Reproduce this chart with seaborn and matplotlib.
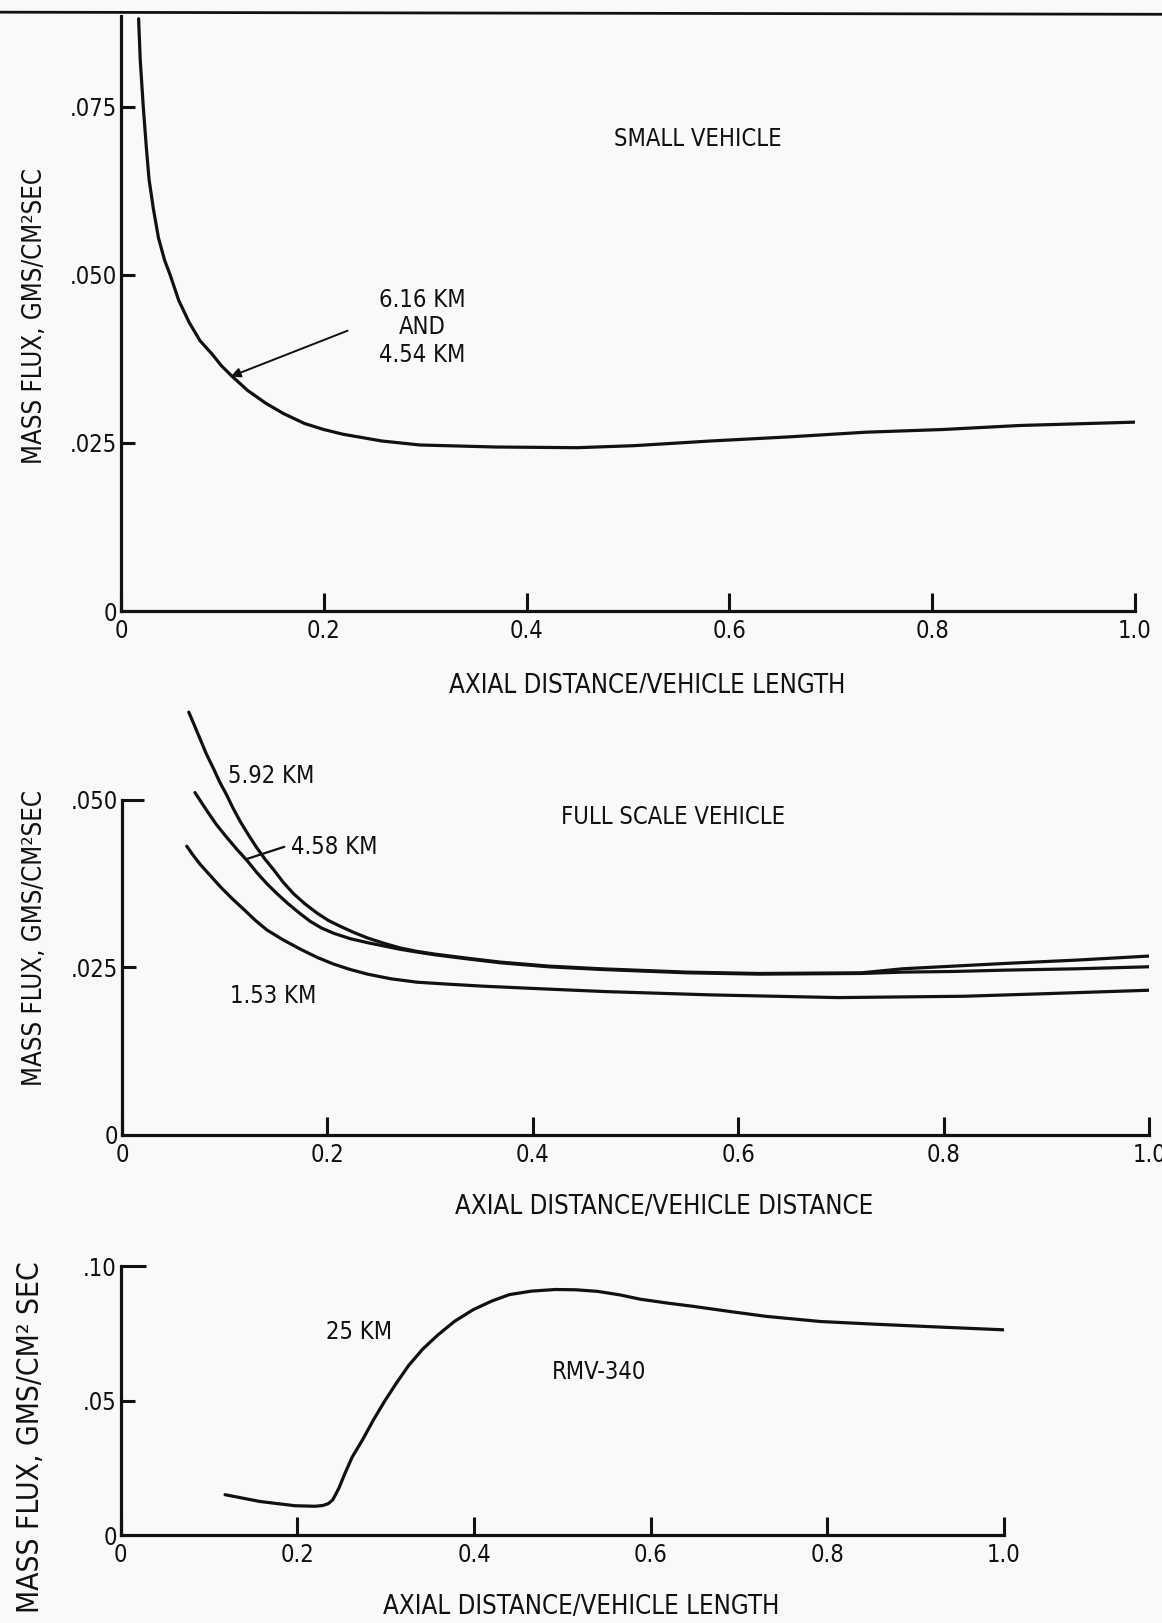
import matplotlib
matplotlib.use("Agg")
import matplotlib.pyplot as plt
from matplotlib import font_manager
from matplotlib.lines import Line2D
import pandas as pd
import seaborn as sns

# ---- data -----------------------------------------------------------------
# Small vehicle (6.16 km and 4.54 km coincide)
small_x = [0.0174, 0.019, 0.022, 0.025, 0.0277, 0.032, 0.037, 0.043, 0.0485, 0.057,
           0.0674, 0.078, 0.090, 0.099, 0.109, 0.125, 0.143, 0.160, 0.181, 0.200,
           0.219, 0.257, 0.295, 0.37, 0.45, 0.506, 0.582, 0.658, 0.734, 0.81, 0.886, 1.0]
small_y = [0.0881, 0.0820, 0.0750, 0.0690, 0.0642, 0.0598, 0.0555, 0.0522, 0.0500, 0.0462,
           0.0429, 0.0402, 0.0382, 0.0365, 0.0350, 0.0328, 0.0309, 0.0294, 0.0279, 0.0270,
           0.0263, 0.0253, 0.0247, 0.0244, 0.0243, 0.0246, 0.0253, 0.0259, 0.0266, 0.0270,
           0.0276, 0.0281]

# Full scale vehicle
fs592_x = [0.065, 0.070, 0.076, 0.082, 0.089, 0.095, 0.102, 0.108, 0.115, 0.123, 0.131,
           0.139, 0.148, 0.157, 0.167, 0.178, 0.190, 0.201, 0.213, 0.226, 0.239, 0.255,
           0.271, 0.287, 0.304, 0.335, 0.368, 0.415, 0.466, 0.55, 0.62, 0.72, 0.76,
           0.81, 0.86, 0.93, 1.0]
fs592_y = [0.0631, 0.0613, 0.0591, 0.0569, 0.0547, 0.0527, 0.0507, 0.0488, 0.0468, 0.0448,
           0.0429, 0.0412, 0.0395, 0.0377, 0.0360, 0.0345, 0.0331, 0.0320, 0.0311, 0.0302,
           0.0294, 0.0286, 0.0279, 0.0274, 0.0270, 0.0264, 0.0258, 0.0252, 0.0248, 0.0243,
           0.0241, 0.0242, 0.0248, 0.0252, 0.0256, 0.0261, 0.0267]
fs458_x = [0.071, 0.077, 0.083, 0.092, 0.102, 0.112, 0.122, 0.131, 0.141, 0.151, 0.161,
           0.172, 0.183, 0.194, 0.206, 0.222, 0.239, 0.255, 0.271, 0.287, 0.304, 0.335,
           0.368, 0.415, 0.466, 0.55, 0.62, 0.72, 0.76, 0.81, 0.86, 0.93, 1.0]
fs458_y = [0.0511, 0.0497, 0.0483, 0.0463, 0.0444, 0.0426, 0.0409, 0.0392, 0.0375, 0.0360,
           0.0346, 0.0332, 0.0319, 0.0309, 0.0301, 0.0293, 0.0287, 0.0282, 0.0277, 0.0273,
           0.0269, 0.0263, 0.0257, 0.0251, 0.0247, 0.0242, 0.0240, 0.0241, 0.0243, 0.0244,
           0.0246, 0.0248, 0.0251]
fs153_x = [0.063, 0.069, 0.076, 0.086, 0.096, 0.107, 0.119, 0.130, 0.141, 0.157, 0.174,
           0.190, 0.206, 0.222, 0.239, 0.262, 0.287, 0.318, 0.352, 0.41, 0.47, 0.574,
           0.697, 0.82, 0.902, 1.0]
fs153_y = [0.0431, 0.0418, 0.0404, 0.0387, 0.0370, 0.0353, 0.0336, 0.0320, 0.0306, 0.0291,
           0.0277, 0.0265, 0.0255, 0.0247, 0.0240, 0.0233, 0.0228, 0.0225, 0.0222, 0.0218,
           0.0214, 0.0209, 0.0205, 0.0207, 0.0211, 0.0216]

# RMV-340 at 25 km
rmv_x = [0.118, 0.157, 0.197, 0.220, 0.229, 0.235, 0.240, 0.247, 0.254, 0.262, 0.274,
         0.286, 0.298, 0.312, 0.326, 0.342, 0.359, 0.378, 0.399, 0.42, 0.44, 0.465,
         0.492, 0.515, 0.54, 0.565, 0.588, 0.62, 0.649, 0.69, 0.731, 0.792, 0.854,
         0.915, 1.0]
rmv_y = [0.0150, 0.0125, 0.0109, 0.0107, 0.0110, 0.0117, 0.0131, 0.0175, 0.0231, 0.0290,
         0.0356, 0.0428, 0.0494, 0.0565, 0.0631, 0.0692, 0.0744, 0.0795, 0.0838, 0.0870,
         0.0894, 0.0907, 0.0913, 0.0912, 0.0906, 0.0893, 0.0877, 0.0862, 0.0850, 0.0831,
         0.0813, 0.0794, 0.0784, 0.0775, 0.0763]

x_ticks = [0, 0.2, 0.4, 0.6, 0.8, 1.0]
x_ticklabels = ["0", "0.2", "0.4", "0.6", "0.8", "1.0"]
y1_ticks = [0, 0.025, 0.050, 0.075]
y1_ticklabels = ["0", ".025", ".050", ".075"]
y2_ticks = [0, 0.025, 0.050]
y2_ticklabels = ["0", ".025", ".050"]
y3_ticks = [0, 0.05, 0.10]
y3_ticklabels = ["0", ".05", ".10"]

# ---- style ----------------------------------------------------------------
sns.set_theme(style="white")
names = {f.name for f in font_manager.fontManager.ttflist}
family = ["Liberation Sans Narrow", "DejaVu Sans"] if "Liberation Sans Narrow" in names \
    else ["DejaVu Sans"]
plt.rcParams["font.family"] = family
plt.rcParams["font.stretch"] = "condensed"

INK = "#111111"
PAPER = "#f9f9f9"
LW = 2.3
FS_TICK = 17
FS_LABEL = 18.5
FS_TEXT = 17

fig = plt.figure(figsize=(11.62, 16.23), dpi=100, facecolor=PAPER)

ax1 = fig.add_axes([0.1041, 0.6235, 0.8726, 0.3666])
ax2 = fig.add_axes([0.1050, 0.3007, 0.8840, 0.2725])
ax3 = fig.add_axes([0.1040, 0.0542, 0.7600, 0.1657])


def style_axis(ax, ylim, yticks, yticklabels, ytop):
    ax.set_facecolor(PAPER)
    ax.set_xlim(0, 1.0)
    ax.set_ylim(*ylim)
    for s in ("top", "right"):
        ax.spines[s].set_visible(False)
    for s in ("left", "bottom"):
        ax.spines[s].set_color(INK)
        ax.spines[s].set_linewidth(LW)
    ax.spines["left"].set_bounds(0, ytop)
    ax.spines["bottom"].set_bounds(0, 1.0)
    ax.set_xticks(x_ticks)
    ax.set_xticklabels(x_ticklabels)
    ax.set_yticks(yticks)
    ax.set_yticklabels(yticklabels)
    ax.tick_params(axis="x", direction="in", length=13, width=2.2, color=INK,
                   labelsize=FS_TICK, labelcolor=INK, pad=6, bottom=True)
    ax.tick_params(axis="y", direction="in", length=10, width=2.2, color=INK,
                   labelsize=FS_TICK, labelcolor=INK, pad=3, left=True)
    ax.grid(False)


# ---- panel 1: small vehicle ----------------------------------------------
df1 = pd.DataFrame({"x": small_x, "y": small_y})
sns.lineplot(data=df1, x="x", y="y", ax=ax1, color=INK, lw=LW, sort=False)
style_axis(ax1, (0, 0.0885), y1_ticks, y1_ticklabels, 0.0885)
ax1.yaxis.get_major_ticks()[0].tick1line.set_visible(False)
ax1.set_xlabel("AXIAL DISTANCE/VEHICLE LENGTH", fontsize=FS_LABEL, color=INK)
ax1.set_ylabel("MASS FLUX, GMS/CM²SEC", fontsize=FS_LABEL, color=INK)
ax1.xaxis.set_label_coords(0.519, -0.104)
ax1.yaxis.set_label_coords(-0.072, 0.496)
ax1.text(0.569, 0.0702, "SMALL VEHICLE", ha="center", va="center",
         fontsize=FS_TEXT, color=INK)
ax1.text(0.297, 0.0422, "6.16 KM\nAND\n4.54 KM", ha="center", va="center",
         fontsize=FS_TEXT, color=INK, linespacing=1.2)
ax1.annotate("", xy=(0.1083, 0.0349), xytext=(0.2235, 0.0417),
             arrowprops=dict(arrowstyle="-|>", color=INK, lw=1.4,
                             mutation_scale=14, shrinkA=0, shrinkB=0))

# ---- panel 2: full scale vehicle -----------------------------------------
df2 = pd.concat([
    pd.DataFrame({"x": fs592_x, "y": fs592_y, "alt": "5.92 KM"}),
    pd.DataFrame({"x": fs458_x, "y": fs458_y, "alt": "4.58 KM"}),
    pd.DataFrame({"x": fs153_x, "y": fs153_y, "alt": "1.53 KM"}),
], ignore_index=True)
sns.lineplot(data=df2, x="x", y="y", hue="alt", units="alt", estimator=None,
             palette=[INK, INK, INK], lw=LW, ax=ax2, legend=False, sort=False)
style_axis(ax2, (0, 0.066), y2_ticks, y2_ticklabels, 0.050)
yt = ax2.yaxis.get_major_ticks()
yt[0].tick1line.set_visible(False)
yt[2].tick1line.set_markersize(16)
ax2.set_xlabel("AXIAL DISTANCE/VEHICLE DISTANCE", fontsize=FS_LABEL, color=INK)
ax2.set_ylabel("MASS FLUX, GMS/CM²SEC", fontsize=FS_LABEL, color=INK)
ax2.xaxis.set_label_coords(0.528, -0.133)
ax2.yaxis.set_label_coords(-0.072, 0.446)
ax2.text(0.536, 0.0475, "FULL SCALE VEHICLE", ha="center", va="center",
         fontsize=FS_TEXT, color=INK)
ax2.text(0.103, 0.0535, "5.92 KM", ha="left", va="center", fontsize=FS_TEXT, color=INK)
ax2.text(0.165, 0.0430, "4.58 KM", ha="left", va="center", fontsize=FS_TEXT, color=INK)
ax2.text(0.1055, 0.0207, "1.53 KM", ha="left", va="center", fontsize=FS_TEXT, color=INK)
ax2.annotate("", xy=(0.1218, 0.0412), xytext=(0.158, 0.0430),
             arrowprops=dict(arrowstyle="-", color=INK, lw=1.6,
                             shrinkA=0, shrinkB=0))

# ---- panel 3: RMV-340 -------------------------------------------------------
df3 = pd.DataFrame({"x": rmv_x, "y": rmv_y})
sns.lineplot(data=df3, x="x", y="y", ax=ax3, color=INK, lw=LW, sort=False)
style_axis(ax3, (0, 0.10), y3_ticks, y3_ticklabels, 0.10)
yt = ax3.yaxis.get_major_ticks()
yt[0].tick1line.set_visible(False)
yt[2].tick1line.set_markersize(18)
ax3.set_xlabel("AXIAL DISTANCE/VEHICLE LENGTH", fontsize=FS_LABEL, color=INK)
ax3.set_ylabel("MASS FLUX, GMS/CM² SEC", fontsize=21.5, color=INK)
ax3.xaxis.set_label_coords(0.521, -0.220)
ax3.yaxis.set_label_coords(-0.086, 0.365)
ax3.text(0.27, 0.0756, "25 KM", ha="center", va="center", fontsize=FS_TEXT, color=INK)
ax3.text(0.541, 0.0605, "RMV-340", ha="center", va="center", fontsize=FS_TEXT, color=INK)

# rule across the head of the page
fig.add_artist(Line2D([0.0, 1.0], [0.9925, 0.9912], transform=fig.transFigure,
                      color=INK, lw=2.0))

fig.savefig("out.png", dpi=100, facecolor=PAPER)
